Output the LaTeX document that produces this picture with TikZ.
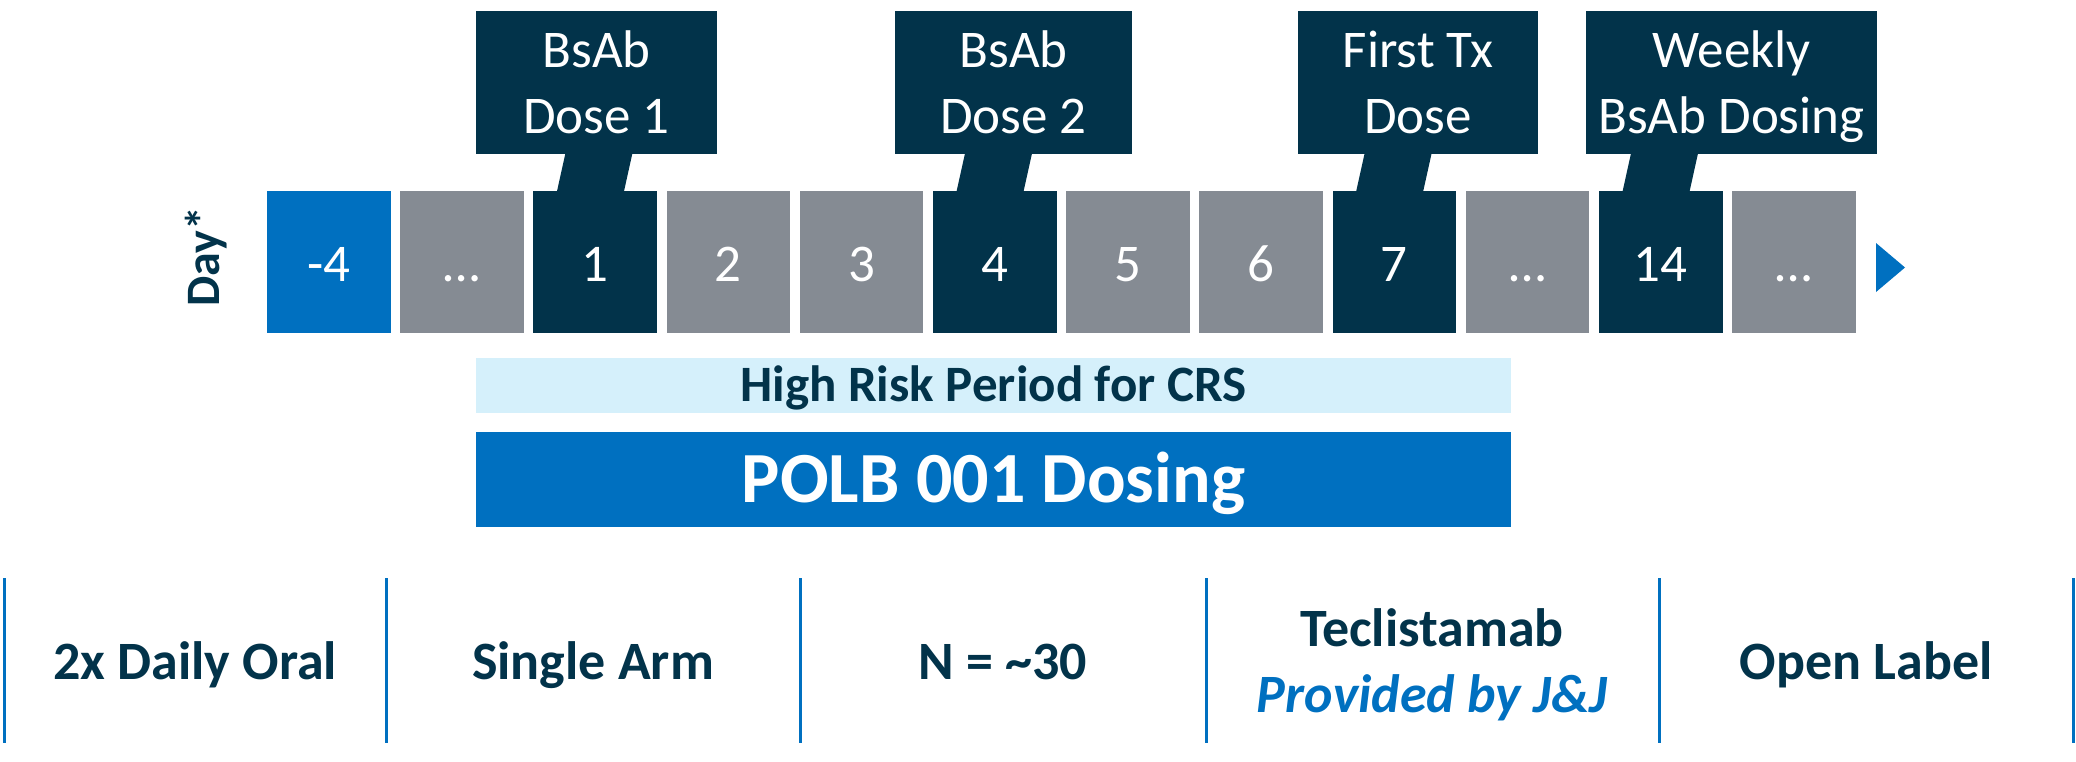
\documentclass[tikz,border=0pt]{standalone}
\usepackage{fontspec}
\setmainfont{Carlito}
\usetikzlibrary{calc}
\definecolor{navy}{HTML}{02334A}
\definecolor{mblue}{HTML}{0070C0}
\definecolor{mgray}{HTML}{858B93}
\definecolor{lblue}{HTML}{D5F0FB}
\begin{document}
\begin{tikzpicture}[x=1pt,y=-1pt,
  daybox/.style={rectangle, inner sep=0pt, minimum width=123.5pt, minimum height=142pt,
    text=white, font=\fontsize{53}{64}\selectfont, text height=38pt, text depth=0pt},
  grayday/.style={daybox, fill=mgray},
  navyday/.style={daybox, fill=navy},
  blueday/.style={daybox, fill=mblue},
  callout/.style={rectangle, fill=navy, inner sep=0pt, minimum height=143pt},
  callouttxt/.style={text=white, align=center, inner sep=0pt, yshift=-4.3pt,
    font=\fontsize{53}{66}\selectfont},
  tail/.style={fill=navy},
  sep/.style={draw=mblue, line width=3pt},
  bottomtxt/.style={text=navy, anchor=base, inner sep=0pt, font=\bfseries\fontsize{54}{66}\selectfont},
]
\useasboundingbox (0,0) rectangle (2076,761);

% Day label
\node[rotate=90, text=navy, inner sep=0pt, font=\bfseries\fontsize{48}{58}\selectfont] (day) at (206,256.5) {Day*};

% Day boxes
\node[blueday] (dm4) at (328.75,262) {-4};
\node[grayday] (da) at (461.95,262) {…};
\node[navyday] (d1) at (595.15,262) {1};
\node[grayday] (d2) at (728.35,262) {2};
\node[grayday] (d3) at (861.55,262) {3};
\node[navyday] (d4) at (994.75,262) {4};
\node[grayday] (d5) at (1127.95,262) {5};
\node[grayday] (d6) at (1261.15,262) {6};
\node[navyday] (d7) at (1394.35,262) {7};
\node[grayday] (db) at (1527.55,262) {…};
\node[navyday] (d14) at (1660.75,262) {14};
\node[grayday] (dc) at (1793.95,262) {…};

% arrow head
\coordinate (tip) at (1905,267.5);
\fill[mblue] (1876,243) -- (tip) -- (1876,292) -- cycle;

% Callouts
\node[callout, minimum width=241pt] (c1) at (596.5,82.5) {};
\node[callout, minimum width=237pt] (c2) at (1013.5,82.5) {};
\node[callout, minimum width=240pt] (c3) at (1418,82.5) {};
\node[callout, minimum width=291pt] (c4) at (1731.5,82.5) {};

\node[callouttxt] at (c1.center) {\strut BsAb\\\strut Dose 1};
\node[callouttxt] at (c2.center) {\strut BsAb\\\strut Dose 2};
\node[callouttxt] at (c3.center) {\strut First Tx\\\strut Dose};
\node[callouttxt] at (c4.center) {\strut Weekly\\\strut BsAb Dosing};

% Tails connecting callouts to day boxes
\foreach \c/\d in {c1/d1, c2/d4, c3/d7, c4/d14}{
  \fill[tail] ($(\d.north |- \c.south)+(-29.5,-2)$) -- ($(\d.north |- \c.south)+(37.5,-2)$)
    -- ($(\d.north)+(28.5,2)$) -- ($(\d.north)+(-38.5,2)$) -- cycle;
}

% Bands
\node[fill=lblue, minimum width=1035pt, minimum height=55pt, inner sep=0pt, text=navy,
  font=\bfseries\fontsize{51}{60}\selectfont, text height=32pt, text depth=0pt] (risk) at (993.5,385) {High Risk Period for CRS};
\node[fill=mblue, minimum width=1035pt, minimum height=95pt, inner sep=0pt, text=white,
  font=\bfseries\fontsize{72}{86}\selectfont, text height=46.4pt, text depth=0pt] (polb) at (993.5,479.5) {POLB 001 Dosing};

% Separators
\foreach \x in {4,386,800,1206,1659,2073}{
  \draw[sep] (\x,578) -- (\x,743);
}

% Bottom texts
\node[bottomtxt] (t1) at (195,679) {2x Daily Oral};
\node[bottomtxt] (t2) at (593,679) {Single Arm};
\node[bottomtxt] (t3) at (1003,679) {N = \textasciitilde30};
\node[bottomtxt] (t4) at (1432,646) {Teclistamab};
\node[bottomtxt, text=mblue, font=\bfseries\itshape\fontsize{54}{66}\selectfont] (t4b) at (1432,712) {Provided by J\&J};
\node[bottomtxt] (t5) at (1866,679) {Open Label};
\end{tikzpicture}
\end{document}
